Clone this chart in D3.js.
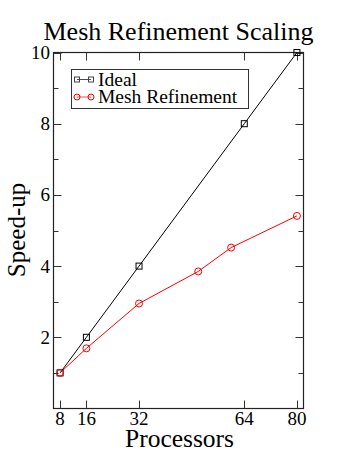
<!DOCTYPE html>
<html><head><meta charset="utf-8">
<script src="https://cdn.jsdelivr.net/npm/d3@7"></script>
<style>body{margin:0;background:#fff}svg{display:block}text{font-family:"Liberation Serif","DejaVu Serif",serif}</style>
</head><body><svg id="c" width="358" height="463"></svg>
<script>
const title = "Mesh Refinement Scaling";
const xLabel = "Processors";
const yLabel = "Speed-up";
const xTicks = [8, 16, 32, 64, 80];
const yMajor = [2, 4, 6, 8, 10];
const yMinor = [1, 3, 5, 7, 9];
const idealX = [8, 16, 32, 64, 80];
const idealY = [1, 2, 4, 8, 10];
const meshX = [8, 16, 32, 50, 60, 80];
const meshY = [1, 1.69, 2.95, 3.85, 4.52, 5.41];
const seriesNames = ["Ideal", "Mesh Refinement"];

const svg = d3.select("#c");
const L = 53.5, R = 303.5, T = 52.5, B = 408.5;
const x = d3.scaleLinear().domain([6, 82]).range([L, R]);
const y = d3.scaleLinear().domain([0, 10]).range([B, T]);

svg.append("rect").attr("x", L).attr("y", T).attr("width", R - L).attr("height", B - T)
  .attr("fill", "none").attr("stroke", "#222").attr("stroke-width", 1.2);

const g = svg.append("g");
g.selectAll(".xb").data(xTicks).join("line")
  .attr("x1", d => Math.round(x(d)) + 0.5).attr("x2", d => Math.round(x(d)) + 0.5)
  .attr("y1", B).attr("y2", B - 8).attr("stroke", "#333");
g.selectAll(".xt").data(xTicks).join("line")
  .attr("x1", d => Math.round(x(d)) + 0.5).attr("x2", d => Math.round(x(d)) + 0.5)
  .attr("y1", T).attr("y2", T + 8).attr("stroke", "#333");
[[yMajor, 8], [yMinor, 5]].forEach(([arr, len]) => {
  g.append("g").selectAll("line").data(arr).join("line")
    .attr("x1", L).attr("x2", L + len)
    .attr("y1", d => Math.round(y(d)) + 0.5).attr("y2", d => Math.round(y(d)) + 0.5).attr("stroke", "#333");
  g.append("g").selectAll("line").data(arr).join("line")
    .attr("x1", R).attr("x2", R - len)
    .attr("y1", d => Math.round(y(d)) + 0.5).attr("y2", d => Math.round(y(d)) + 0.5).attr("stroke", "#333");
});
g.selectAll(".xl").data(xTicks).join("text")
  .attr("x", d => x(d)).attr("y", 425).attr("text-anchor", "middle")
  .attr("font-size", 19).text(d => d);
g.selectAll(".yl").data(yMajor).join("text")
  .attr("x", 50).attr("y", d => y(d) + 6.5).attr("text-anchor", "end")
  .attr("font-size", 19).text(d => d);

svg.append("text").attr("x", 178.5).attr("y", 39.5).attr("text-anchor", "middle")
  .attr("font-size", 26).text(title);
svg.append("text").attr("x", 179.5).attr("y", 447).attr("text-anchor", "middle")
  .attr("font-size", 25.5).text(xLabel);
svg.append("text").attr("transform", "translate(25,230) rotate(-90)").attr("text-anchor", "middle")
  .attr("font-size", 25).text(yLabel);

const line = d3.line().x(d => x(d[0])).y(d => y(d[1]));
const ideal = idealX.map((v, i) => [v, idealY[i]]);
const mesh = meshX.map((v, i) => [v, meshY[i]]);
svg.append("path").datum(ideal).attr("d", line).attr("fill", "none").attr("stroke", "#000").attr("stroke-width", 1);
svg.append("path").datum(mesh).attr("d", line).attr("fill", "none").attr("stroke", "#ff0000").attr("stroke-width", 1);
svg.selectAll(".sq").data(ideal).join("rect")
  .attr("x", d => x(d[0]) - 3).attr("y", d => y(d[1]) - 3).attr("width", 6).attr("height", 6)
  .attr("fill", "none").attr("stroke", "#000").attr("stroke-width", 1);
svg.selectAll(".ci").data(mesh).join("circle")
  .attr("cx", d => x(d[0])).attr("cy", d => y(d[1])).attr("r", 3.5)
  .attr("fill", "none").attr("stroke", "#ff0000").attr("stroke-width", 1);

const lg = svg.append("g");
lg.append("rect").attr("x", 71.5).attr("y", 69.5).attr("width", 177).attr("height", 39)
  .attr("fill", "#fff").attr("stroke", "#333").attr("stroke-width", 1);
const colors = ["#000", "#ff0000"];
seriesNames.forEach((nm, i) => {
  const yy = 79.5 + i * 17.5;
  lg.append("line").attr("x1", 77).attr("x2", 91).attr("y1", yy).attr("y2", yy).attr("stroke", colors[i]).attr("stroke-opacity", 0.7);
  if (i === 0) {
    [77, 91].forEach(cx => lg.append("rect").attr("x", cx - 2.5).attr("y", yy - 2.5).attr("width", 5).attr("height", 5)
      .attr("fill", "none").attr("stroke", "#444"));
  } else {
    [77, 91].forEach(cx => lg.append("circle").attr("cx", cx).attr("cy", yy).attr("r", 3)
      .attr("fill", "none").attr("stroke", colors[i]));
  }
  lg.append("text").attr("x", 98).attr("y", yy + 6).attr("font-size", 19.5).text(nm);
});
</script></body></html>
